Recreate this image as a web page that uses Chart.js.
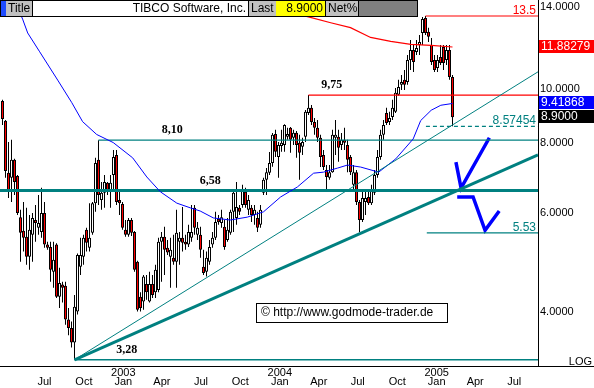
<!DOCTYPE html>
<html>
<head>
<meta charset="utf-8">
<script src="https://cdn.jsdelivr.net/npm/chart.js@4.4.1/dist/chart.umd.min.js"></script>
<style>
  html, body { margin: 0; padding: 0; background: #fff; }
  #wrap { width: 594px; height: 388px; position: relative; }
</style>
</head>
<body>
<div id="wrap"><canvas id="chart"></canvas></div>
<script>
// Wochenkerzen ab 25.03.2002, x = Tage seit der ersten Kerze
const firstWeek = Date.UTC(2002, 2, 25);
const DAY = 86400000;

const open = [9.52, 8.77, 7.08, 6.94, 7.47, 6.99, 5.90, 5.58, 5.44, 5.01,
  5.49, 5.83, 5.65, 5.55, 6.00, 5.27, 5.22, 4.71, 5.27, 4.25,
  4.47, 4.45, 3.87, 3.74, 3.52, 4.00, 4.81, 5.01, 5.60, 5.20,
  5.53, 6.25, 7.47, 6.33, 6.52, 6.80, 6.60, 7.02, 7.62, 6.33,
  6.23, 5.60, 5.49, 5.83, 5.55, 4.91, 4.25, 4.17, 4.48, 4.17,
  4.48, 4.33, 4.37, 5.33, 5.44, 5.20, 5.01, 4.99, 4.91, 5.33,
  5.42, 5.33, 5.27, 5.42, 6.13, 5.49, 5.49, 4.81, 4.71, 4.91,
  5.27, 5.42, 5.86, 5.76, 5.67, 5.37, 5.53, 6.03, 5.88, 6.13,
  6.20, 6.55, 6.08, 6.13, 5.95, 5.88, 5.72, 6.52, 6.88,
  7.08, 7.37, 8.31, 7.56, 7.91, 7.94, 8.21, 8.52, 8.18, 8.35,
  8.01, 7.88, 8.21, 9.06, 9.25, 8.73, 8.52, 8.18, 7.62, 7.16,
  6.94, 7.10, 8.18, 8.21, 7.94, 8.11, 7.94, 7.56, 6.74,
  7.10, 6.28, 5.83, 6.28, 6.41, 6.25, 6.52, 7.02, 7.56, 8.28,
  9.06, 8.73, 8.91, 9.10, 9.76, 10.17, 10.38, 10.29, 11.27,
  11.74, 11.64, 11.98, 12.59, 13.39, 12.65, 11.98, 11.27, 10.90, 11.40,
  11.88, 11.27, 11.74, 10.50];
const high = [9.56, 8.80, 8.04, 8.11, 7.50, 7.02, 6.08, 6.28, 6.13, 5.95,
  6.00, 6.20, 6.46, 6.66, 6.28, 5.33, 5.33, 5.33, 5.30, 4.79,
  4.52, 4.52, 4.06, 3.84, 4.28, 5.08, 5.42, 5.49, 5.65, 6.25,
  6.28, 7.53, 8.10, 6.82, 7.02, 6.82, 7.02, 7.78, 7.78, 6.55,
  6.28, 5.83, 5.88, 5.88, 5.57, 4.93, 4.33, 4.65, 4.65, 4.71,
  4.65, 4.85, 5.42, 5.55, 5.67, 5.37, 5.42, 5.49, 6.08, 5.55,
  6.15, 5.49, 5.72, 6.20, 6.20, 5.78, 5.67, 5.16, 5.12, 5.37,
  5.55, 6.03, 5.95, 6.08, 5.83, 5.88, 6.08, 6.60, 6.82, 6.20,
  6.74, 6.66, 6.46, 6.20, 6.20, 6.03, 6.20, 6.94, 7.22,
  7.71, 8.34, 8.45, 8.04, 8.45, 8.65, 8.52, 8.55, 8.45, 8.41,
  8.28, 8.18, 9.17, 9.75, 9.36, 8.87, 8.80, 8.28, 7.78, 7.31,
  7.31, 8.45, 8.80, 8.45, 8.34, 8.52, 8.11, 7.62, 7.31,
  7.16, 6.33, 6.55, 6.55, 6.60, 6.74, 7.16, 7.78, 8.45, 8.80,
  9.25, 9.10, 9.56, 10.04, 10.38, 10.59, 10.81, 11.50, 12.23,
  11.98, 12.23, 12.49, 13.45, 13.50, 12.86, 12.33, 11.50, 11.50, 11.98,
  11.98, 11.98, 11.98, 10.59];
const low = [8.62, 6.94, 6.38, 6.28, 6.46, 5.95, 4.91, 5.12, 4.85, 4.75,
  4.91, 5.33, 5.49, 5.42, 5.20, 5.16, 4.52, 4.41, 4.23, 4.06,
  4.15, 3.79, 3.63, 3.45, 3.28, 3.95, 4.65, 4.85, 5.12, 5.12,
  5.49, 6.03, 6.20, 6.08, 6.13, 6.46, 6.13, 6.55, 6.20, 5.95,
  5.60, 5.44, 5.44, 5.46, 4.71, 4.00, 4.00, 4.03, 4.20, 4.15,
  4.23, 4.23, 4.33, 4.52, 4.65, 5.05, 4.41, 4.85, 4.41, 4.85,
  5.12, 5.16, 5.22, 5.33, 5.49, 5.37, 4.99, 4.65, 4.62, 4.85,
  5.20, 5.37, 5.72, 5.65, 5.16, 5.33, 5.49, 5.55, 5.72, 5.95,
  6.13, 6.13, 5.95, 5.78, 5.72, 5.55, 5.65, 6.46, 6.46,
  7.02, 7.26, 7.56, 6.94, 7.72, 7.72, 8.11, 7.69, 7.94, 7.53,
  6.88, 7.62, 8.04, 8.98, 8.62, 8.28, 8.04, 7.25, 7.16, 6.60,
  6.88, 7.08, 7.62, 7.41, 7.78, 7.78, 7.10, 7.02, 6.60,
  6.20, 5.55, 5.78, 5.95, 6.20, 6.20, 6.46, 6.94, 7.47, 8.11,
  8.62, 8.62, 8.80, 9.06, 9.72, 9.96, 9.96, 10.17, 10.81,
  10.72, 11.50, 11.50, 11.98, 12.49, 12.13, 11.03, 10.72, 10.72, 11.03,
  10.81, 11.03, 10.38, 8.5745];
const close = [8.84, 7.13, 6.55, 7.47, 6.82, 6.00, 5.53, 5.42, 5.01, 5.60,
  5.88, 5.76, 5.76, 6.00, 5.27, 5.20, 4.75, 4.95, 4.25, 4.50,
  4.41, 3.87, 3.74, 3.52, 4.08, 5.05, 5.05, 5.42, 5.31, 5.42,
  6.25, 7.37, 6.46, 6.52, 6.82, 6.60, 6.80, 7.56, 6.28, 6.25,
  5.65, 5.49, 5.83, 5.53, 4.75, 4.03, 4.06, 4.62, 4.33, 4.48,
  4.28, 4.75, 5.33, 5.44, 5.16, 5.10, 5.16, 4.91, 5.53, 5.42,
  5.31, 5.27, 5.55, 5.55, 5.65, 5.65, 5.16, 4.69, 4.99, 5.22,
  5.42, 5.78, 5.78, 5.90, 5.22, 5.60, 6.03, 6.52, 6.15, 6.03,
  6.60, 6.20, 6.33, 5.95, 6.08, 5.65, 6.08, 6.88, 7.10,
  7.37, 8.28, 7.72, 7.94, 8.01, 8.62, 8.31, 8.11, 8.35, 7.94,
  7.69, 8.04, 9.10, 9.25, 8.73, 8.52, 8.18, 7.56, 7.25, 6.96,
  7.10, 8.28, 8.28, 7.85, 8.11, 8.01, 7.47, 7.10, 7.10,
  6.28, 5.83, 6.38, 6.38, 6.25, 6.60, 7.02, 7.56, 8.28, 8.62,
  8.69, 8.87, 9.25, 9.84, 10.08, 10.29, 10.17, 11.27, 11.74,
  11.17, 11.84, 12.13, 13.34, 12.59, 12.39, 11.17, 10.81, 11.27, 11.13,
  11.13, 11.74, 10.50, 8.90];

// gleitende Durchschnitte (Woche, Wert)
const blueMaWeeks = [3.2, 4.0, 6.7, 8.4, 12.4, 18.4, 23.1, 26.7, 31.4, 36.9, 43.4, 48.1, 52.6, 58.1,
  62.6, 65.9, 70.3, 75.9, 81.6, 87.0, 92.7, 98.3, 103.7, 107.0, 111.7, 115.0, 119.4, 125.4,
  131.1, 136.9, 139.4, 142.9, 146.1, 150];
const blueMaValues = [15.0, 14.42, 13.33, 12.59, 11.65, 10.37, 9.45, 8.74, 8.29, 8.02, 7.53, 6.96, 6.55, 6.25,
  6.13, 6.05, 5.88, 5.83, 5.90, 6.03, 6.41, 6.68, 7.07, 7.10, 7.22, 7.31, 7.25, 7.10,
  7.50, 8.14, 8.78, 9.16, 9.35, 9.41868];
const redMaWeeks = [82.6, 102, 109.4, 116, 122.7, 129.4, 136.1, 142.9, 150];
const redMaValues = [14.3, 13.45, 13.13, 12.87, 12.36, 12.16, 12.01, 11.96, 11.88279];

// Achsen
const tickMonths = ['2002-07', '2002-10', '2003-01', '2003-04', '2003-07', '2003-10', '2004-01',
  '2004-04', '2004-07', '2004-10', '2005-01', '2005-04', '2005-07'];
const monthNames = { '01': 'Jan', '04': 'Apr', '07': 'Jul', '10': 'Oct' };
const priceTicks = [4, 6, 8, 10, 14];
// 3 px pro Woche, erste Kerze bei x = 2.5
const xMin = -5.833, xMax = 1249.5;

// Marken / Linien (Tag, Kurs)
const levelTexts = ['8,10', '6,58', '9,75', '3,28'];
const levelTextDays = [396, 485, 768, 290];
const levelTextValues = [8.10, 6.58, 9.75, 3.28];
const trendThin = [[168, 3.28], [1249.5, 10.73]];
const trendThick = [[168, 3.28], [1249.5, 7.62]];
const arrowUp = [[1058, 7.40], [1070, 6.65], [1136, 8.18]];
const arrowDown = [[1061, 6.41], [1098, 6.41], [1126, 5.59], [1159, 6.05]];

const teal = '#008080';
const toDays = (y, m) => (Date.UTC(y, m - 1, 1) - firstWeek) / DAY;
const tickDays = tickMonths.map(s => toDays(+s.slice(0, 4), +s.slice(5)));
const pts = arr => arr.map(p => ({ x: p[0], y: p[1] }));

function line(data, color, width, dash) {
  return {
    type: 'line', data: data, borderColor: color, borderWidth: width,
    borderDash: dash || [], pointRadius: 0, order: 0, tension: 0
  };
}
function hline(fromDay, value, color, width, dash) {
  return line([{ x: fromDay, y: value }, { x: xMax, y: value }], color, width, dash);
}

const overlay = {
  id: 'overlay',
  afterDraw(chart) {
    const ctx = chart.ctx, xs = chart.scales.x, ys = chart.scales.y, a = chart.chartArea;
    ctx.save();
    // Kursmarken
    ctx.font = 'bold 12px "Liberation Serif", "Times New Roman", serif';
    ctx.fillStyle = '#000';
    ctx.textAlign = 'center';
    ctx.textBaseline = 'middle';
    levelTexts.forEach((t, i) => {
      ctx.fillText(t, xs.getPixelForValue(levelTextDays[i]), ys.getPixelForValue(levelTextValues[i]) - 10);
    });
    ctx.font = '12px Arial, "Liberation Sans", sans-serif';
    ctx.textAlign = 'right';
    ctx.textBaseline = 'alphabetic';
    ctx.fillStyle = '#ff0000';
    ctx.fillText('13.5', a.right - 2, ys.getPixelForValue(13.5) - 2);
    ctx.fillStyle = teal;
    ctx.fillText('8.57454', a.right - 2, ys.getPixelForValue(8.57454) - 2);
    ctx.fillText('5.53', a.right - 2, ys.getPixelForValue(5.53) - 2);

    // Wertkästen rechts
    const boxes = [
      [redMaValues[redMaValues.length - 1], '#ff0000', '11.88279'],
      [blueMaValues[blueMaValues.length - 1], '#0000ff', '9.41868'],
      [close[close.length - 1], '#000000', '8.9000']
    ];
    ctx.textAlign = 'left';
    ctx.textBaseline = 'middle';
    boxes.forEach(b => {
      const y = Math.round(ys.getPixelForValue(b[0]));
      ctx.fillStyle = b[1];
      ctx.fillRect(a.right + 1, y - 7, 594 - a.right, 13);
      ctx.fillStyle = '#fff';
      ctx.fillText(b[2], a.right + 3, y);
    });

    // Kopfzeile
    const cells = [[0, 6, '#1e4cff'], [6, 32, '#c0c0c0'], [32, 248, '#ffffff'], [248, 276, '#c0c0c0'],
      [276, 325, '#ffff00'], [325, 358, '#c0c0c0'], [358, 418, '#808080']];
    cells.forEach(c => { ctx.fillStyle = c[2]; ctx.fillRect(c[0], 0, c[1] - c[0], 16); });
    ctx.strokeStyle = '#000';
    ctx.lineWidth = 1;
    ctx.strokeRect(0.5, 0.5, 417, 16);
    [32, 248, 325, 358].forEach(x => {
      ctx.beginPath(); ctx.moveTo(x + 0.5, 0); ctx.lineTo(x + 0.5, 16); ctx.stroke();
    });
    ctx.fillStyle = '#000';
    ctx.textAlign = 'left';
    ctx.fillText('Title', 8, 9);
    ctx.fillText('Last', 251, 9);
    ctx.fillText('Net%', 328, 9);
    ctx.textAlign = 'right';
    ctx.fillText('TIBCO Software, Inc.', 246, 9);
    ctx.fillText('8.9000', 323, 9);

    // Copyright
    ctx.fillStyle = '#fff';
    ctx.fillRect(256, 303, 191, 19);
    ctx.strokeRect(256.5, 303.5, 191, 19);
    ctx.fillStyle = '#000';
    ctx.textAlign = 'left';
    ctx.fillText('\u00a9 http://www.godmode-trader.de', 261, 313);

    // Grundlinie und LOG
    ctx.beginPath();
    ctx.moveTo(0, a.bottom + 0.5); ctx.lineTo(594, a.bottom + 0.5);
    ctx.stroke();
    ctx.font = '11px Arial, "Liberation Sans", sans-serif';
    ctx.textAlign = 'right';
    ctx.textBaseline = 'alphabetic';
    ctx.fillText('LOG', 592, a.bottom - 1);
    ctx.restore();
  }
};

new Chart(document.getElementById('chart'), {
  type: 'bar',
  data: {
    datasets: [
      line(pts(trendThick), teal, 3),
      line(pts(trendThin), teal, 1),
      line(blueMaWeeks.map((w, i) => ({ x: w * 7, y: blueMaValues[i] })), '#0000ff', 1),
      line(redMaWeeks.map((w, i) => ({ x: w * 7, y: redMaValues[i] })), '#ff0000', 1.2),
      hline(xMin, 6.58, teal, 3),
      hline(224, 8.10, teal, 1.2),
      hline(168, 3.28, teal, 1.5),
      hline(990, 5.53, teal, 1.2),
      hline(988, 8.57454, teal, 1.2, [4, 3]),
      hline(714, 9.75, '#ff0000', 1.2),
      hline(987, 13.5, '#ff0000', 1.2),
      line(pts(arrowUp), '#0000ff', 3.5),
      line(pts(arrowDown), '#0000ff', 3.5),
      {
        data: close.map((c, i) => ({ x: i * 7, y: [open[i], c] })),
        backgroundColor: ctx => close[ctx.dataIndex] < open[ctx.dataIndex] ? '#ff0000' : '#ffffff',
        borderColor: '#000', borderWidth: 1, borderSkipped: false, inflateAmount: 0,
        barThickness: 3, grouped: false, order: 1
      },
      {
        data: close.map((c, i) => ({ x: i * 7, y: [low[i], high[i]] })),
        backgroundColor: '#000', borderWidth: 0, inflateAmount: 0,
        barThickness: 1, grouped: false, order: 2
      }
    ]
  },
  options: {
    responsive: true,
    maintainAspectRatio: false,
    animation: false,
    events: [],
    layout: { padding: 0 },
    plugins: { legend: { display: false }, tooltip: { enabled: false } },
    scales: {
      x: {
        type: 'linear', min: xMin, max: xMax, offset: false,
        grid: { display: false, drawTicks: false },
        border: { display: false },
        afterBuildTicks: s => { s.ticks = tickDays.map(v => ({ value: v })); },
        afterFit: s => { s.height = 22; s.paddingLeft = 0; s.paddingRight = 0; },
        ticks: {
          autoSkip: false, maxRotation: 0, padding: 2, color: '#000',
          font: { family: 'Arial, "Liberation Sans", sans-serif', size: 11, lineHeight: 0.85 },
          callback: (v, i) => {
            const y = tickMonths[i].slice(0, 4), m = tickMonths[i].slice(5);
            return m === '01' ? [y, monthNames[m]] : ['', monthNames[m]];
          }
        }
      },
      y: {
        type: 'logarithmic', position: 'right', min: 3.197, max: 14.42,
        grid: { display: false, drawTicks: false },
        border: { display: true, color: '#000', width: 1 },
        afterBuildTicks: s => { s.ticks = priceTicks.map(v => ({ value: v })); },
        afterFit: s => { s.width = 56; s.paddingTop = 0; s.paddingBottom = 0; },
        ticks: {
          autoSkip: false, padding: 2, color: '#000',
          font: { family: 'Arial, "Liberation Sans", sans-serif', size: 11 },
          callback: v => Number(v).toFixed(4)
        }
      }
    }
  },
  plugins: [overlay]
});
</script>
</body>
</html>
